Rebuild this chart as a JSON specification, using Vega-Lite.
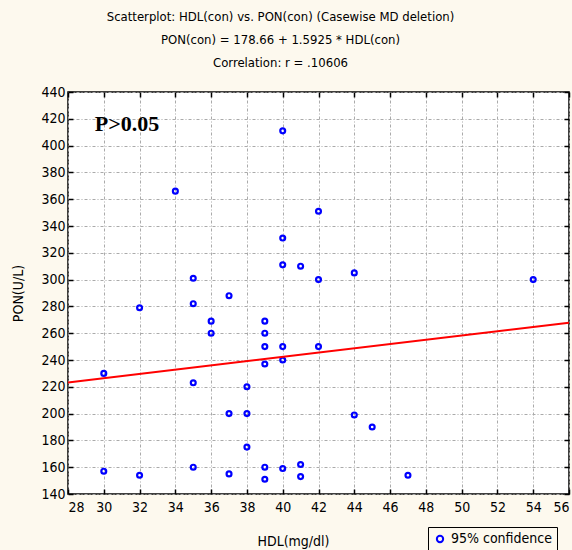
{
  "$schema": "https://vega.github.io/schema/vega-lite/v6.json",
  "autosize": {"type": "none"},
  "width": 501,
  "height": 402,
  "padding": {"left": 68, "top": 92, "right": 3, "bottom": 56},
  "background": "#fdf9ee",
  "title": {
    "text": ["Scatterplot: HDL(con) vs. PON(con) (Casewise MD deletion)", "PON(con) = 178.66 + 1.5925 * HDL(con)", "Correlation: r = .10606"],
    "font": "DejaVu Sans Condensed, Liberation Sans",
    "fontSize": 13,
    "fontWeight": "normal",
    "lineHeight": 23,
    "anchor": "middle",
    "dx": -38,
    "offset": 15,
    "color": "black"
  },
  "datasets": {
    "points": [
      {"HDL": 30, "PON": 230}, {"HDL": 30, "PON": 157},
      {"HDL": 32, "PON": 279}, {"HDL": 32, "PON": 154},
      {"HDL": 34, "PON": 366},
      {"HDL": 35, "PON": 301}, {"HDL": 35, "PON": 282}, {"HDL": 35, "PON": 223}, {"HDL": 35, "PON": 160},
      {"HDL": 36, "PON": 269}, {"HDL": 36, "PON": 260},
      {"HDL": 37, "PON": 288}, {"HDL": 37, "PON": 200}, {"HDL": 37, "PON": 155},
      {"HDL": 38, "PON": 220}, {"HDL": 38, "PON": 200}, {"HDL": 38, "PON": 175},
      {"HDL": 39, "PON": 269}, {"HDL": 39, "PON": 260}, {"HDL": 39, "PON": 250}, {"HDL": 39, "PON": 237}, {"HDL": 39, "PON": 160}, {"HDL": 39, "PON": 151},
      {"HDL": 40, "PON": 411}, {"HDL": 40, "PON": 331}, {"HDL": 40, "PON": 311}, {"HDL": 40, "PON": 250}, {"HDL": 40, "PON": 240}, {"HDL": 40, "PON": 159},
      {"HDL": 41, "PON": 310}, {"HDL": 41, "PON": 162}, {"HDL": 41, "PON": 153},
      {"HDL": 42, "PON": 351}, {"HDL": 42, "PON": 300}, {"HDL": 42, "PON": 250},
      {"HDL": 44, "PON": 305}, {"HDL": 44, "PON": 199},
      {"HDL": 45, "PON": 190},
      {"HDL": 47, "PON": 154},
      {"HDL": 54, "PON": 300}
    ],
    "fit": [
      {"HDL": 28, "PON": 223.25},
      {"HDL": 56, "PON": 267.84}
    ],
    "note": [
      {"HDL": 29.5, "PON": 416, "label": "P>0.05"}
    ]
  },
  "resolve": {"axis": {"x": "independent", "y": "independent"}},
  "layer": [
    {
      "data": {"name": "points"},
      "mark": {"type": "point", "shape": "circle", "filled": false, "size": 24, "strokeWidth": 2.2, "opacity": 1},
      "encoding": {
        "x": {
          "field": "HDL", "type": "quantitative",
          "scale": {"domain": [28, 56], "nice": false, "zero": false},
          "axis": {
            "orient": "bottom",
            "values": [28, 30, 32, 34, 36, 38, 40, 42, 44, 46, 48, 50, 52, 54, 56],
            "title": "HDL(mg/dl)",
            "titleX": 225, "titleY": 40,
            "labelPadding": 11,
            "grid": true
          }
        },
        "y": {
          "field": "PON", "type": "quantitative",
          "scale": {"domain": [140, 440], "nice": false, "zero": false},
          "axis": {
            "orient": "left",
            "values": [140, 160, 180, 200, 220, 240, 260, 280, 300, 320, 340, 360, 380, 400, 420, 440],
            "title": "PON(U/L)",
            "titleX": -43, "titleY": 201,
            "labelPadding": 8,
            "grid": true
          }
        },
        "color": {
          "datum": "95% confidence", "type": "nominal",
          "scale": {"range": ["#0000ff"]},
          "legend": {
            "orient": "none", "legendX": 360, "legendY": 435, "title": null,
            "strokeColor": "black", "padding": 5,
            "labelFont": "DejaVu Sans Condensed, Liberation Sans", "labelFontSize": 14, "labelColor": "black",
            "symbolType": "circle", "symbolStrokeWidth": 2, "symbolSize": 40, "symbolFillColor": "transparent", "symbolOpacity": 1
          }
        }
      }
    },
    {
      "data": {"name": "fit"},
      "mark": {"type": "line", "color": "#ff0000", "strokeWidth": 2},
      "encoding": {
        "x": {
          "field": "HDL", "type": "quantitative",
          "axis": {"orient": "top", "values": [28, 30, 32, 34, 36, 38, 40, 42, 44, 46, 48, 50, 52, 54, 56], "labels": false, "title": null, "grid": false}
        },
        "y": {
          "field": "PON", "type": "quantitative",
          "axis": {"orient": "right", "values": [140, 160, 180, 200, 220, 240, 260, 280, 300, 320, 340, 360, 380, 400, 420, 440], "labels": false, "title": null, "grid": false}
        }
      }
    },
    {
      "data": {"name": "note"},
      "mark": {"type": "text", "font": "Liberation Serif", "fontWeight": "bold", "fontSize": 22, "align": "left", "baseline": "middle", "color": "black"},
      "encoding": {
        "x": {"field": "HDL", "type": "quantitative", "axis": null},
        "y": {"field": "PON", "type": "quantitative", "axis": null},
        "text": {"field": "label"}
      }
    }
  ],
  "config": {
    "view": {"fill": "white", "stroke": "black", "strokeWidth": 1.5},
    "axis": {
      "domain": false,
      "tickSize": -5,
      "tickColor": "black",
      "tickWidth": 1.5,
      "gridColor": "#aaaaaa",
      "gridDash": [3, 2, 1, 2],
      "gridWidth": 1,
      "labelFont": "DejaVu Sans Condensed, Liberation Sans",
      "labelFontSize": 14,
      "labelColor": "black",
      "titleFont": "DejaVu Sans Condensed, Liberation Sans",
      "titleFontSize": 14,
      "titleFontWeight": "normal",
      "titleColor": "black"
    }
  }
}
